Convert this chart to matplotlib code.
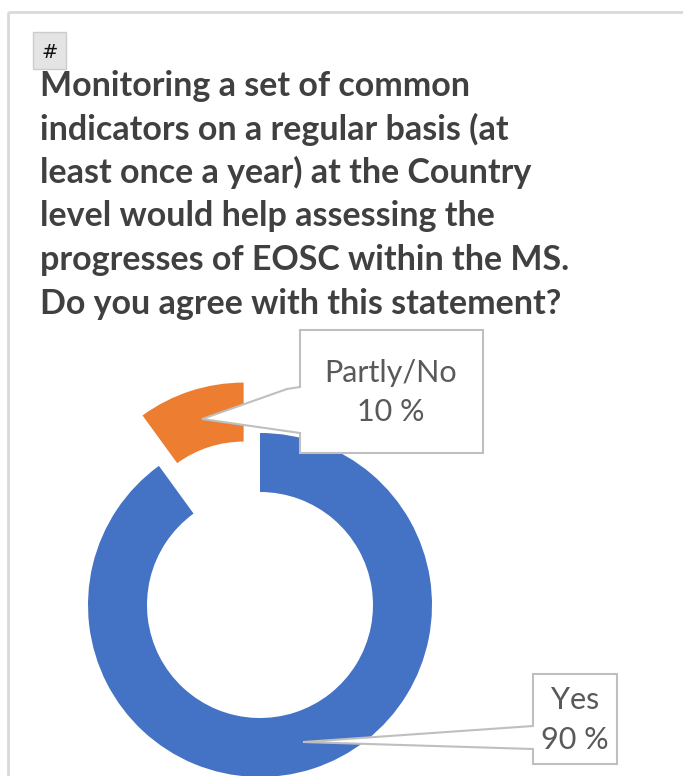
import matplotlib
matplotlib.use("Agg")
import matplotlib.pyplot as plt
from matplotlib.patches import Rectangle, Polygon

# chart data
labels = ["Yes", "Partly/No"]
values = [90, 10]
colors = ["#4472C4", "#ED7D31"]
title_lines = [
    "Monitoring a set of common",
    "indicators on a regular basis (at",
    "least once a year) at the Country",
    "level would help assessing the",
    "progresses of EOSC within the MS.",
    "Do you agree with this statement?",
]

W, H = 683, 776
fig = plt.figure(figsize=(W / 100, H / 100), dpi=100)
ax = fig.add_axes([0, 0, 1, 1])


def py(y):
    # picture rows run downwards, data y runs upwards
    return H - y


# donut, Partly/No slice pulled out
ax.pie(values, colors=colors, startangle=90, counterclock=False,
       center=(260, py(605)), radius=172, explode=[0, 53],
       wedgeprops=dict(width=59, edgecolor="none"), frame=True)

# outer frame
ax.plot([8, W + 5], [py(12), py(12)], color="#d9d9d9", lw=2, solid_capstyle="butt")
ax.plot([8, 8], [py(12), py(H + 5)], color="#d9d9d9", lw=2, solid_capstyle="butt")

# "#" marker box
ax.add_patch(Rectangle((33, py(69)), 33, 37, facecolor="#e4e4e4",
                       edgecolor="#cccccc", lw=1))
ax.text(50, py(52), "#", ha="center", va="center", fontsize=14,
        color="#111111", family="DejaVu Sans")

# title
for i, line in enumerate(title_lines):
    ax.text(40, py(96 + i * 43.5), line, ha="left", va="baseline",
            fontsize=24.5, fontweight="bold", color="#404040", family="Lato")

# callouts
callouts = {
    "Partly/No": [(300, 330), (483, 330), (483, 453), (300, 453), (300, 433),
                  (202, 419), (287, 389), (300, 387)],
    "Yes": [(533, 674), (617, 674), (617, 764), (533, 764), (533, 749),
            (303, 742), (533, 726)],
}
text_pos = {"Partly/No": (391, 382, 421), "Yes": (575, 709, 749)}
for lab, val in zip(labels, values):
    pts = [(x, py(y)) for x, y in callouts[lab]]
    ax.add_patch(Polygon(pts, closed=True, facecolor="white",
                         edgecolor="#bfbfbf", lw=1.5, zorder=5))
    x, y1, y2 = text_pos[lab]
    ax.text(x, py(y1), lab, ha="center", va="baseline", fontsize=22,
            color="#595959", family="Lato", zorder=6)
    ax.text(x, py(y2), f"{val} %", ha="center", va="baseline", fontsize=22,
            color="#595959", family="Lato", zorder=6)

ax.set_xlim(0, W)
ax.set_ylim(0, H)
ax.axis("off")

fig.savefig("out.png", dpi=100)
plt.close(fig)
